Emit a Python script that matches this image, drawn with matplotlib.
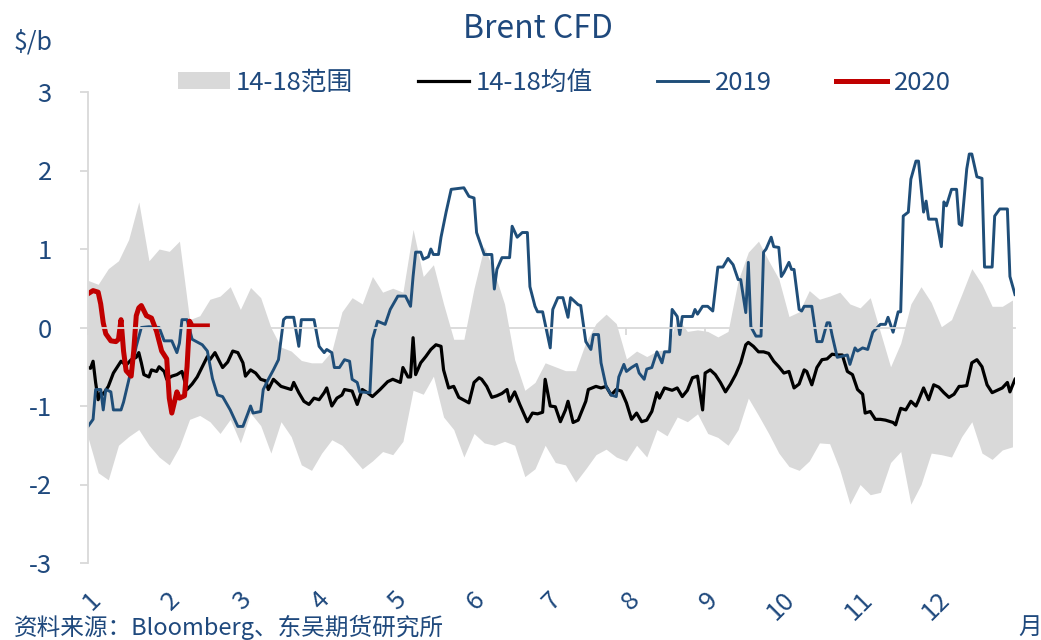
import matplotlib
matplotlib.use("Agg")
import matplotlib.pyplot as plt
from matplotlib.patches import Patch
from matplotlib.lines import Line2D

plt.rcParams['font.family'] = ['Noto Sans CJK SC', 'DejaVu Sans']
plt.rcParams['axes.unicode_minus'] = False

# x axis is day of year (0 = 1 Jan)
month_starts = [0, 31, 59, 90, 120, 151, 181, 212, 243, 273, 304, 334]
month_labels = [str(m) for m in range(1, 13)]
y_ticks = [-3, -2, -1, 0, 1, 2, 3]

# 14-18 range, sampled every 4 days
band_days = list(range(0, 365, 4))
band_upper = [0.6, 0.55, 0.75, 0.85, 1.12, 1.6, 0.85, 1.0, 0.97, 1.1,
              0.1, 0.15, 0.36, 0.4, 0.52, 0.23, 0.51, 0.38, 0.0, -0.25,
              -0.3, -0.42, -0.45, -0.45, -0.3, 0.2, 0.38, 0.3, 0.65, 0.45,
              0.5, 0.45, 1.25, 0.65, 0.8, 0.3, -0.15, -0.15, 0.5, 1.03,
              0.7, 0.3, -0.41, -0.8, -0.7, -0.45, -0.5, -0.55, -0.55, -0.19,
              0.05, 0.17, 0.05, -0.4, -0.3, -0.37, -0.3, -0.28, 0.13, -0.05,
              -0.03, -0.05, -0.12, -0.05, 0.6, 0.96, 1.1, 0.85, 0.62, 0.14,
              0.2, 0.47, 0.36, 0.4, 0.45, 0.3, 0.25, 0.38, -0.06, -0.5,
              -0.2, 0.3, 0.52, 0.32, 0.01, 0.1, 0.42, 0.75, 0.55, 0.27,
              0.27, 0.35]
band_lower = [-1.4, -1.85, -1.94, -1.5, -1.39, -1.3, -1.5, -1.65, -1.75, -1.52,
              -1.17, -1.12, -1.2, -1.35, -1.17, -1.47, -1.09, -1.25, -1.6, -1.2,
              -1.39, -1.75, -1.82, -1.6, -1.43, -1.5, -1.65, -1.8, -1.7, -1.58,
              -1.62, -1.45, -0.8, -0.85, -0.62, -1.14, -1.3, -1.65, -1.35, -1.47,
              -1.5, -1.45, -1.5, -1.9, -1.8, -1.5, -1.72, -1.75, -1.97, -1.8,
              -1.62, -1.55, -1.65, -1.7, -1.5, -1.65, -1.3, -1.38, -1.14, -1.2,
              -1.1, -1.35, -1.4, -1.5, -1.3, -0.9, -1.12, -1.35, -1.6, -1.77,
              -1.82, -1.7, -1.47, -1.48, -1.81, -2.25, -2.0, -2.13, -2.1, -1.72,
              -1.58, -2.25, -2.0, -1.6, -1.62, -1.65, -1.39, -1.2, -1.6, -1.68,
              -1.56, -1.52]

# 14-18 mean (day, value)
mean_pts = [(0, -0.51), (1, -0.52), (2, -0.43), (3, -0.7), (4, -0.92), (5, -0.83), (6, -0.85),
            (8, -0.75), (10, -0.58), (13, -0.43), (15, -0.48), (17, -0.41), (19, -0.38), (20, -0.32),
            (21, -0.45), (22, -0.6), (24, -0.63), (25, -0.54), (27, -0.56), (28, -0.5), (30, -0.56),
            (31, -0.66), (33, -0.62), (35, -0.6), (37, -0.56), (39, -0.79), (41, -0.72), (43, -0.63),
            (45, -0.5), (47, -0.37), (48, -0.41), (50, -0.32), (53, -0.51), (55, -0.44), (57, -0.3),
            (59, -0.32), (61, -0.45), (62, -0.62), (64, -0.54), (66, -0.58), (68, -0.66), (70, -0.68),
            (71, -0.79), (73, -0.66), (76, -0.75), (78, -0.77), (80, -0.79), (81, -0.7), (83, -0.83),
            (85, -0.94), (87, -0.98), (89, -0.9), (91, -0.92), (93, -0.83), (94, -0.77), (96, -1.0),
            (98, -0.9), (100, -0.86), (101, -0.79), (104, -0.81), (106, -0.98), (108, -0.79), (110, -0.83),
            (112, -0.88), (115, -0.79), (118, -0.69), (120, -0.66), (123, -0.7), (124, -0.51), (126, -0.63),
            (127, -0.63), (128, -0.13), (129, -0.6), (131, -0.45), (133, -0.37), (135, -0.28), (137, -0.22),
            (139, -0.24), (140, -0.54), (142, -0.77), (144, -0.75), (146, -0.89), (150, -0.96), (152, -0.7),
            (154, -0.64), (155, -0.66), (157, -0.75), (159, -0.89), (161, -0.87), (163, -0.84), (165, -0.79),
            (166, -0.94), (168, -0.82), (170, -0.98), (173, -1.2), (175, -1.09), (177, -1.1), (179, -1.08),
            (180, -0.66), (182, -1.0), (184, -1.01), (186, -1.2), (188, -1.05), (189, -0.94), (191, -1.21),
            (193, -1.18), (196, -0.94), (197, -0.79), (200, -0.75), (202, -0.77), (204, -0.75), (206, -0.86),
            (208, -0.79), (210, -0.81), (212, -0.96), (214, -1.17), (216, -1.09), (218, -1.2), (220, -1.18),
            (222, -1.07), (224, -0.83), (225, -0.9), (227, -0.77), (230, -0.8), (232, -0.77), (234, -0.88),
            (236, -0.8), (238, -0.64), (240, -0.62), (242, -1.05), (243, -0.58), (245, -0.54), (247, -0.6),
            (249, -0.7), (251, -0.82), (253, -0.72), (255, -0.6), (257, -0.45), (259, -0.22), (260, -0.19),
            (262, -0.24), (264, -0.31), (266, -0.31), (268, -0.33), (270, -0.43), (272, -0.5), (274, -0.58),
            (276, -0.56), (278, -0.77), (280, -0.72), (282, -0.54), (283, -0.56), (285, -0.73), (287, -0.51),
            (289, -0.41), (291, -0.4), (293, -0.34), (295, -0.35), (297, -0.35), (299, -0.56), (301, -0.6),
            (303, -0.79), (305, -0.85), (306, -1.09), (308, -1.07), (310, -1.17), (312, -1.17), (314, -1.18),
            (317, -1.21), (318, -1.24), (319, -1.13), (320, -1.03), (322, -1.05), (324, -0.94), (326, -1.0),
            (327, -0.93), (329, -0.77), (331, -0.92), (333, -0.73), (335, -0.76), (337, -0.83), (339, -0.89),
            (341, -0.85), (343, -0.75), (344, -0.75), (346, -0.74), (348, -0.45), (350, -0.41), (352, -0.5),
            (354, -0.73), (356, -0.83), (358, -0.8), (360, -0.77), (362, -0.7), (363, -0.82), (365, -0.66)]

# 2019 (day, value)
y2019_pts = [(0, -1.26), (2, -1.17), (3, -0.79), (5, -0.79), (6, -1.05), (7, -0.79), (9, -0.82), (10, -1.05),
             (13, -1.05), (14, -0.95), (17, -0.54), (19, -0.24), (21, 0.0), (24, 0.01), (28, 0.0), (30, -0.17),
             (33, -0.17), (35, -0.32), (36, -0.2), (37, 0.1), (39, 0.1), (41, -0.15), (45, -0.22), (47, -0.3),
             (49, -0.65), (51, -0.86), (53, -0.88), (56, -1.05), (59, -1.26), (61, -1.26), (63, -1.09),
             (64, -1.0), (65, -1.09), (68, -1.07), (69, -0.79), (71, -0.66), (73, -0.54), (75, -0.41),
             (77, 0.1), (78, 0.13), (81, 0.13), (83, -0.24), (84, 0.1), (89, 0.1), (91, -0.24), (93, -0.32),
             (94, -0.28), (96, -0.32), (97, -0.51), (99, -0.51), (101, -0.41), (103, -0.43), (104, -0.66),
             (106, -0.7), (107, -0.82), (111, -0.83), (112, -0.15), (114, 0.08), (117, 0.04), (119, 0.23),
             (122, 0.4), (125, 0.4), (127, 0.27), (128, 0.65), (129, 0.96), (131, 0.96), (132, 0.87),
             (134, 0.9), (135, 1.0), (136, 0.93), (138, 0.93), (139, 1.15), (141, 1.47), (143, 1.76),
             (148, 1.78), (150, 1.67), (152, 1.65), (153, 1.21), (156, 0.93), (159, 0.93), (160, 0.49),
             (161, 0.74), (163, 0.89), (166, 0.89), (167, 1.29), (169, 1.15), (171, 1.21), (173, 1.21),
             (174, 0.52), (176, 0.27), (177, 0.2), (179, 0.2), (182, -0.26), (183, 0.23), (185, 0.38),
             (187, 0.38), (189, 0.13), (190, 0.38), (193, 0.29), (194, 0.28), (196, -0.18), (198, -0.28),
             (199, -0.09), (201, -0.09), (202, -0.45), (204, -0.75), (206, -0.86), (208, -0.88), (209, -0.63),
             (211, -0.47), (212, -0.56), (214, -0.51), (216, -0.47), (217, -0.58), (219, -0.66), (220, -0.53),
             (222, -0.51), (224, -0.31), (226, -0.45), (227, -0.31), (229, -0.31), (230, 0.23), (232, 0.14),
             (233, -0.09), (234, 0.14), (238, 0.14), (239, 0.23), (240, 0.17), (242, 0.27), (244, 0.27),
             (246, 0.21), (248, 0.77), (250, 0.77), (252, 0.88), (254, 0.8), (256, 0.61), (257, 0.61),
             (259, 0.19), (260, 0.83), (261, 0.01), (263, -0.11), (265, -0.11), (266, 0.96), (267, 1.0),
             (269, 1.15), (270, 1.03), (272, 1.02), (273, 0.65), (274, 0.7), (276, 0.83), (277, 0.74),
             (278, 0.74), (280, 0.23), (281, 0.21), (282, 0.27), (285, 0.27), (287, -0.18), (289, -0.18),
             (291, 0.06), (292, 0.06), (293, -0.1), (295, -0.38), (299, -0.35), (300, -0.47), (302, -0.26),
             (303, -0.3), (305, -0.26), (307, -0.28), (309, -0.06), (312, 0.04), (314, 0.04), (315, 0.13),
             (317, -0.06), (319, 0.2), (320, 0.2), (321, 1.42), (323, 1.47), (324, 1.89), (326, 2.12),
             (327, 2.12), (329, 1.47), (330, 1.61), (331, 1.38), (334, 1.38), (336, 1.03), (337, 1.6),
             (338, 1.55), (340, 1.76), (342, 1.76), (343, 1.32), (344, 1.3), (346, 2.02), (347, 2.21),
             (348, 2.21), (350, 1.92), (352, 1.9), (353, 0.77), (356, 0.77), (357, 1.42), (359, 1.51),
             (362, 1.51), (363, 0.65), (365, 0.42)]

# 2020 (day, value)
y2020_pts = [(0, 0.43), (2, 0.47), (4, 0.45), (5, 0.3), (6, 0.06), (7, -0.08), (9, -0.17), (11, -0.18),
             (12, -0.15), (13, 0.1), (14, -0.3), (15, -0.55), (17, -0.62), (18, -0.3), (19, 0.15),
             (20, 0.25), (21, 0.28), (23, 0.15), (25, 0.12), (27, -0.05), (29, -0.3), (31, -0.4),
             (32, -0.9), (33, -1.09), (35, -0.82), (36, -0.9), (38, -0.87), (39, -0.5), (40, 0.08),
             (41, 0.02), (44, 0.02), (47, 0.02)]

TXT = '#1f497d'
GRID = '#d9d9d9'
BLUE = '#1f4e79'
RED = '#c00000'

fig = plt.figure(figsize=(10.41, 6.4), dpi=100)
ax = fig.add_axes([88 / 1041, 1 - 563 / 640, 927 / 1041, 471 / 640])

ax.fill_between(band_days, band_lower, band_upper, color=GRID, lw=0)
mx, my = zip(*mean_pts)
ax.plot(mx, my, color='black', lw=2.3)
bx, by = zip(*y2019_pts)
ax.plot(bx, by, color=BLUE, lw=2.1)
rx, ry = zip(*y2020_pts)
ax.plot(rx, ry, color=RED, lw=3.6)

ax.set_xlim(0, 365)
ax.set_ylim(-3, 3)

# spines
ax.spines['top'].set_visible(False)
ax.spines['right'].set_visible(False)
ax.spines['left'].set_color(GRID)
ax.spines['left'].set_linewidth(1.3)
ax.spines['bottom'].set_position(('data', 0))
ax.spines['bottom'].set_color(GRID)
ax.spines['bottom'].set_linewidth(1.3)

ax.set_yticks(y_ticks)
ax.set_yticklabels([str(v) for v in y_ticks])
ax.tick_params(axis='y', colors=GRID, labelcolor=TXT, labelsize=18.5, length=6, width=1.3, pad=20)

ax.set_xticks(month_starts)
ax.tick_params(axis='x', colors=GRID, length=5, width=1.3, labelbottom=False)

# month labels at the bottom of the plot
sec = ax.secondary_xaxis('bottom')
sec.set_xticks(month_starts)
sec.set_xticklabels(month_labels)
sec.spines['bottom'].set_visible(False)
sec.tick_params(axis='x', length=0, pad=17, labelsize=18.5, labelcolor=TXT)
for lab in sec.get_xticklabels():
    lab.set_rotation(45)
    lab.set_ha('right')
    lab.set_rotation_mode('anchor')

handles = [Patch(facecolor=GRID, edgecolor='none'),
           Line2D([], [], color='black', lw=2.3),
           Line2D([], [], color=BLUE, lw=2.1),
           Line2D([], [], color=RED, lw=3.6)]
labels = ['14-18范围', '14-18均值', '2019', '2020']
ax.legend(handles, labels, ncol=4, frameon=False, loc='center',
          bbox_to_anchor=(0.514, 1.02), fontsize=18.5, labelcolor=TXT,
          handlelength=2.0, handleheight=0.65, handletextpad=0.25, columnspacing=2.5)

fig.text(538 / 1041, 1 - 29 / 640, 'Brent CFD', ha='center', va='center', fontsize=23, color=TXT)
fig.text(14 / 1041, 1 - 42 / 640, '$/b', ha='left', va='center', fontsize=18, color=TXT)
fig.text(14 / 1041, 1 - 627 / 640, '资料来源：Bloomberg、东吴期货研究所', ha='left', va='center',
         fontsize=17, color=TXT, style='italic')
fig.text(1030 / 1041, 1 - 627 / 640, '月', ha='center', va='center', fontsize=17, color=TXT)

fig.savefig('out.png', dpi=100)
